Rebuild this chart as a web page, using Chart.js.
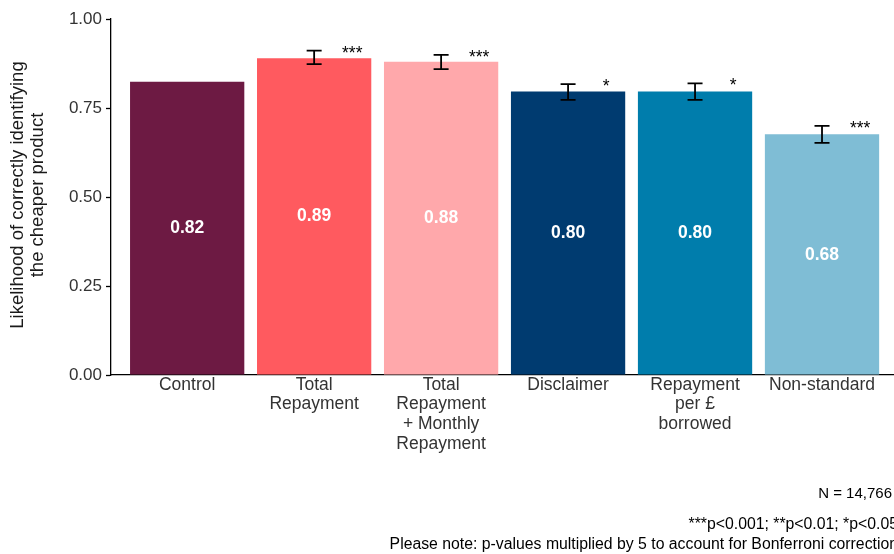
<!DOCTYPE html>
<html lang="en">
<head>
    <meta charset="UTF-8">
    <title>Likelihood of correctly identifying the cheaper product</title>
    <script src="https://cdn.jsdelivr.net/npm/chart.js@4.4.1/dist/chart.umd.min.js"></script>
    <style>
        body{
            margin: 0;
            background: #fff;
            overflow: hidden;
        }
    </style>
</head>
<body>
    <canvas id="chartCanvas" width="894" height="554"></canvas>

    <script>
        // treatment groups and estimated likelihoods
        var categories = [
            ['Control'],
            ['Total', 'Repayment'],
            ['Total', 'Repayment', '+ Monthly', 'Repayment'],
            ['Disclaimer'],
            ['Repayment', 'per £', 'borrowed'],
            ['Non-standard']
        ];
        var likelihood = [0.824, 0.890, 0.880, 0.796, 0.796, 0.676];
        // 95% intervals (control is the reference, no interval)
        var ciLower = [null, 0.873, 0.859, 0.773, 0.773, 0.652];
        var ciUpper = [null, 0.911, 0.899, 0.817, 0.819, 0.700];
        var stars = ['', '***', '***', '*', '*', '***'];
        var barColors = ['#6d1a43', '#ff5a5f', '#ffa8ab', '#003b70', '#007dac', '#7fbdd5'];
        var yTicks = [0, 0.25, 0.5, 0.75, 1];

        var yTitle = ['Likelihood of correctly identifying', 'the cheaper product'];
        var sampleNote = 'N = 14,766';
        var footNotes = ['***p<0.001; **p<0.01; *p<0.05',
                         'Please note: p-values multiplied by 5 to account for Bonferroni correction'];

        var FONT = '"Liberation Sans", Arial, Helvetica, sans-serif';

        var annotate = {
            id: 'annotate',
            afterDatasetsDraw: function(chart) {
                var ctx = chart.ctx;
                var xs = chart.scales.x, ys = chart.scales.y;
                ctx.save();
                likelihood.forEach(function(v, i) {
                    var cx = xs.getPixelForValue(i + 1);
                    // value label in the middle of the bar
                    ctx.fillStyle = '#fff';
                    ctx.font = 'bold 17.5px ' + FONT;
                    ctx.textAlign = 'center';
                    ctx.textBaseline = 'middle';
                    ctx.fillText(v.toFixed(2), cx, ys.getPixelForValue(v / 2));

                    if (ciLower[i] === null) return;
                    var yl = ys.getPixelForValue(ciLower[i]);
                    var yu = ys.getPixelForValue(ciUpper[i]);
                    ctx.strokeStyle = '#000';
                    ctx.lineWidth = 1.8;
                    ctx.beginPath();
                    ctx.moveTo(cx, yl); ctx.lineTo(cx, yu);
                    ctx.moveTo(cx - 7.5, yl); ctx.lineTo(cx + 7.5, yl);
                    ctx.moveTo(cx - 7.5, yu); ctx.lineTo(cx + 7.5, yu);
                    ctx.stroke();

                    // significance stars
                    ctx.fillStyle = '#000';
                    ctx.font = '17.5px ' + FONT;
                    ctx.fillText(stars[i], xs.getPixelForValue(i + 1.3), yu + 3);
                });
                ctx.restore();
            },
            afterDraw: function(chart) {
                var ctx = chart.ctx;
                var area = chart.chartArea;
                ctx.save();
                ctx.fillStyle = '#1a1a1a';
                ctx.font = '18.5px ' + FONT;
                ctx.textAlign = 'center';
                ctx.textBaseline = 'middle';
                var midY = (area.top + area.bottom) / 2 - 2;
                yTitle.forEach(function(line, k) {
                    ctx.save();
                    ctx.translate(18 + k * 20, midY);
                    ctx.rotate(-Math.PI / 2);
                    ctx.fillText(line, 0, 0);
                    ctx.restore();
                });

                ctx.fillStyle = '#000';
                ctx.font = '15px ' + FONT;
                ctx.textAlign = 'right';
                ctx.fillText(sampleNote, 892, 494);
                ctx.font = '15.8px ' + FONT;
                ctx.fillText(footNotes[0], 898, 525);
                ctx.fillText(footNotes[1], 898, 545);
                ctx.restore();
            }
        };

        const ctx = document.getElementById('chartCanvas').getContext('2d');
        const chart = new Chart(ctx, {
            type: 'bar',
            data: {
                datasets: [{
                    data: likelihood.map(function(v, i) { return {x: i + 1, y: v}; }),
                    backgroundColor: barColors,
                    borderWidth: 0,
                    categoryPercentage: 0.9,
                    barPercentage: 1
                }]
            },
            options: {
                responsive: false,
                animation: false,
                layout: {padding: {top: 19, right: 0, left: 0, bottom: 0}},
                plugins: {
                    legend: {display: false},
                    tooltip: {enabled: false}
                },
                scales: {
                    x: {
                        type: 'linear',
                        offset: false,
                        min: 0.4,
                        max: 6.567,
                        afterBuildTicks: function(scale) {
                            scale.ticks = categories.map(function(c, i) { return {value: i + 1}; });
                        },
                        afterFit: function(scale) { scale.height = 179; },
                        grid: {display: false, drawTicks: false},
                        border: {display: true, color: '#000', width: 1.3},
                        ticks: {
                            autoSkip: false,
                            maxRotation: 0,
                            padding: 0,
                            color: '#333',
                            font: {family: FONT, size: 17.5, lineHeight: 1.13},
                            callback: function(v) { return categories[v - 1]; }
                        }
                    },
                    y: {
                        min: 0,
                        max: 1,
                        afterBuildTicks: function(scale) {
                            scale.ticks = yTicks.map(function(t) { return {value: t}; });
                        },
                        afterFit: function(scale) { scale.width = 111; },
                        grid: {
                            display: true,
                            drawOnChartArea: false,
                            drawTicks: true,
                            tickLength: 5,
                            tickWidth: 1.3,
                            tickColor: '#000'
                        },
                        border: {display: true, color: '#000', width: 1.3},
                        ticks: {
                            padding: 4,
                            color: '#333',
                            font: {family: FONT, size: 17},
                            callback: function(v) { return v.toFixed(2); }
                        }
                    }
                }
            },
            plugins: [annotate]
        });
    </script>
</body>
</html>
